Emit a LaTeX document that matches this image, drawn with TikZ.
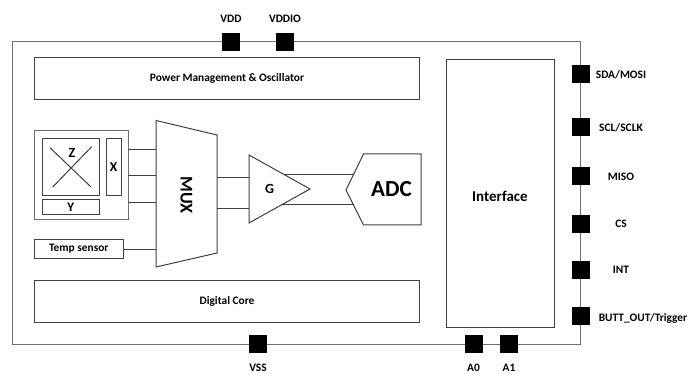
\documentclass[tikz,border=0pt]{standalone}
\usepackage{fontspec}
\setmainfont{Carlito}
\definecolor{lineA}{HTML}{6E6E6E}
\definecolor{lineB}{HTML}{404040}
\tikzset{
  boxn/.style={draw=lineB,line width=1pt,inner sep=0pt,outer sep=0pt,font=\bfseries\fontsize{11.4}{13}\selectfont,text=black},
  pin/.style={fill=black,draw=none,minimum size=18pt,inner sep=0pt,outer sep=0pt},
  lab/.style={font=\bfseries\fontsize{11.4}{13}\selectfont,text=black,inner sep=0pt},
  wire/.style={draw=lineB,line width=1pt},
}
% name, x1, y1, x2, y2, extra style, text
\newcommand{\bx}[7]{\node[boxn,minimum width={(#4-#2)*1pt},minimum height={(#5-#3)*1pt},#6] (#1) at ({(#2+#4)/2},{(#3+#5)/2}) {#7};}
\begin{document}
\begin{tikzpicture}[x=1pt,y=-1pt]
\useasboundingbox (0,0) rectangle (688,374);
\fill[white] (0,0) rectangle (688,374);
% outer package
\bx{chip}{12}{42}{580.5}{344}{draw=lineA}{}
% blocks
\bx{power}{34}{58}{419}{100}{}{}
\node[lab] (powerlab) at (227,78.5) {Power Management \& Oscillator};
\bx{core}{34}{280}{419}{322}{}{}
\node[lab] (corelab) at (227,301) {Digital Core};
\bx{iface}{446}{60}{554}{327}{}{}
\node[lab,font=\bfseries\fontsize{15}{17}\selectfont] (ifacelab) at (500,196) {Interface};
\bx{sensor}{34.7}{131}{128}{220}{draw=lineA}{}
\bx{zbox}{42}{139}{99.5}{196}{}{}
\bx{xbox}{106}{139}{121}{196}{font=\bfseries\fontsize{13.5}{15}\selectfont}{X}
\bx{ybox}{42}{200}{99.5}{215}{font=\bfseries\fontsize{13}{15}\selectfont}{Y}
\bx{temp}{34}{240}{123.5}{258}{}{Temp sensor}
% Z cross
\coordinate (za) at (50,147.7);
\coordinate (zb) at (90.7,186.7);
\coordinate (zc) at (91.7,146.7);
\coordinate (zd) at (52.7,187);
\draw[wire] (za) -- (zb);
\draw[wire] (zc) -- (zd);
\node[lab,font=\bfseries\fontsize{14}{16}\selectfont] (zlab) at (72,153) {Z};
% MUX
\coordinate (m1) at (156,120.5);
\coordinate (m2) at (217,135);
\coordinate (m3) at (217,253);
\coordinate (m4) at (156,267);
\draw[wire,fill=white] (m1) -- (m2) -- (m3) -- (m4) -- cycle;
\node[lab,rotate=-90,font=\bfseries\fontsize{18}{20}\selectfont] (muxlab) at (186.5,195) {MUX};
% G
\coordinate (g1) at (249,155);
\coordinate (g2) at (310,189);
\coordinate (g3) at (249,223);
\node[lab,font=\bfseries\fontsize{14}{16}\selectfont] (glab) at (269.5,189) {G};
% ADC
\coordinate (a1) at (363.5,154);
\coordinate (a2) at (421,154);
\coordinate (a3) at (421,225);
\coordinate (a4) at (363.5,225);
\coordinate (a5) at (346,190);
\node[lab,font=\bfseries\fontsize{23}{25}\selectfont] (adclab) at (391.5,189) {ADC};
% wires from sensor to MUX
\coordinate (i1) at (156,149.5);
\coordinate (i2) at (156,176);
\coordinate (i3) at (156,203);
\coordinate (i4) at (156,249);
\draw[wire] (sensor.east |- i1) -- (i1);
\draw[wire] (sensor.east |- i2) -- (i2);
\draw[wire] (sensor.east |- i3) -- (i3);
\draw[wire] (temp.east |- i4) -- (i4);
% MUX to G
\coordinate (o1) at (217,178);
\coordinate (o2) at (217,209);
\coordinate (gi1) at (249,178);
\coordinate (gi2) at (249,209);
\draw[wire] (o1) -- (gi1);
\draw[wire] (o2) -- (gi2);
% G to ADC
\coordinate (ga1) at (285,175);
\coordinate (ga2) at (281,205);
\coordinate (ad1) at (353,175);
\coordinate (ad2) at (353.5,205);
\draw[wire] (ga1) -- (ad1);
\draw[wire] (ga2) -- (ad2);
\draw[wire] (g1) -- (g2) -- (g3) -- cycle;
\draw[wire] (a1) -- (a2) -- (a3) -- (a4) -- (a5) -- cycle;
% pins
\node[pin] (pVDD) at (231,42) {};
\node[pin] (pVDDIO) at (285,42) {};
\node[pin] (pVSS) at (258,344) {};
\node[pin] (pA0) at (473.5,344) {};
\node[pin] (pA1) at (509,344) {};
\node[pin] (pSDA) at (581,74) {};
\node[pin] (pSCL) at (581,127.5) {};
\node[pin] (pMISO) at (581,176) {};
\node[pin] (pCS) at (581,224) {};
\node[pin] (pINT) at (581,269.5) {};
\node[pin] (pBUTT) at (581,316) {};
% pin labels
\node[lab] (lVDD) at (231,18.5) {VDD};
\node[lab] (lVDDIO) at (285,18.5) {VDDIO};
\node[lab] (lVSS) at (258,368) {VSS};
\node[lab] (lA0) at (473.5,368) {A0};
\node[lab] (lA1) at (509,368) {A1};
\node[lab] (lSDA) at (621,74.5) {SDA/MOSI};
\node[lab] (lSCL) at (621,127.5) {SCL/SCLK};
\node[lab] (lMISO) at (621,176.5) {MISO};
\node[lab] (lCS) at (621,224) {CS};
\node[lab] (lINT) at (621,270) {INT};
\node[lab] (lBUTT) at (643,318) {BUTT\_OUT/Trigger};
\end{tikzpicture}
\end{document}
